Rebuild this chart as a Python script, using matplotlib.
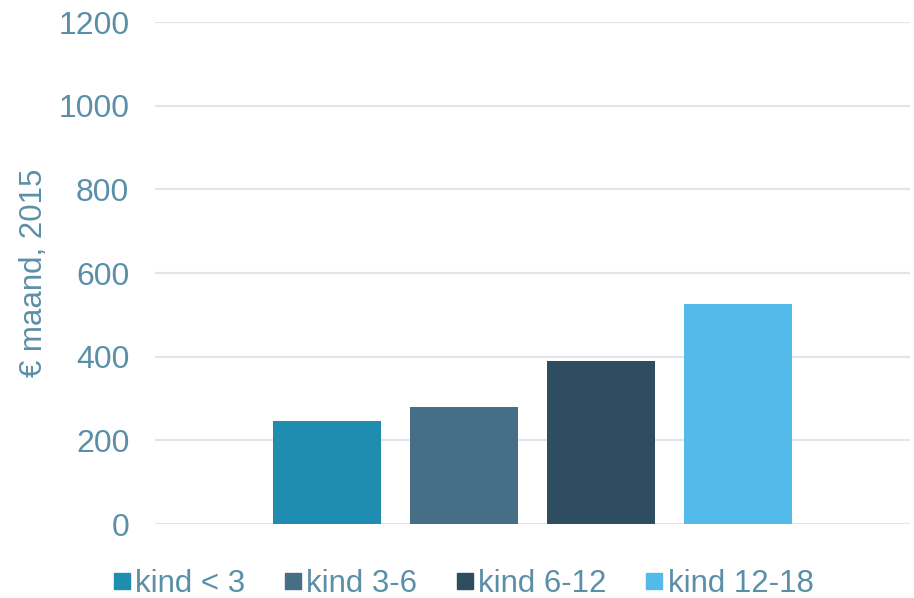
import numpy as np
import matplotlib.pyplot as plt
from matplotlib.lines import Line2D

plt.rcParams['font.family'] = ['Liberation Sans', 'DejaVu Sans']

# kosten per kind, euro per maand (2015)
groepen = ['kind < 3', 'kind 3-6', 'kind 6-12', 'kind 12-18']
kosten = [246, 279, 389, 525]
kleuren = ['#1F8DB0', '#466E87', '#2F4D60', '#52BBEA']
yticks = [0, 200, 400, 600, 800, 1000, 1200]

tekst = '#5B8FA8'
raster = '#DCE6EC'

fig = plt.figure(figsize=(9.14, 5.98), dpi=100)
ax = fig.add_axes([0.1696, 0.1237, 0.826, 0.8395])

x = np.arange(len(groepen))
ax.bar(x, kosten, width=0.788, color=kleuren, zorder=3)

ax.set_xlim(-1.255, len(groepen) - 1 + 1.255)
ax.set_ylim(0, 1200)
ax.set_yticks(yticks)
ax.set_yticklabels([str(v) for v in yticks])
ax.set_xticks([])
ax.grid(axis='y', color=raster, linewidth=1.5, zorder=0)
for s in ax.spines.values():
    s.set_visible(False)
ax.tick_params(axis='y', length=0, pad=18.5, labelsize=23, labelcolor=tekst)

ax.set_ylabel('€ maand, 2015', fontsize=22.5, color=tekst)
ax.yaxis.set_label_coords(-0.140, 0.5)

handles = [Line2D([], [], marker='s', linestyle='none', markersize=12,
                  markerfacecolor=k, markeredgecolor=k) for k in kleuren]
fig.legend(handles, groepen, loc='center', bbox_to_anchor=(0.507, 0.023),
           ncol=4, frameon=False, fontsize=22.5, labelcolor=tekst,
           handletextpad=0.15, columnspacing=1.25, handlelength=0.55)

fig.savefig('out.png', dpi=100)
